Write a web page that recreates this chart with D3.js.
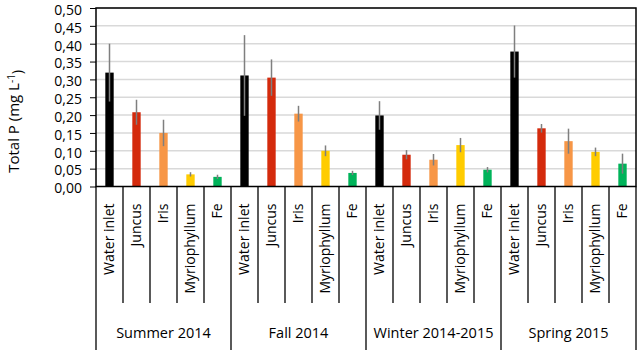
<!DOCTYPE html>
<html>
<head>
<meta charset="utf-8">
<script src="https://cdn.jsdelivr.net/npm/d3@7"></script>
<style>
  body { margin: 0; background: #fff; }
  text { font-family: "Open Sans", sans-serif; fill: #000; }
</style>
</head>
<body>
<div id="chart"></div>
<script>
const width = 640;
const height = 353;
const margin = {top: 8, right: 4, bottom: 166.5, left: 96};

// data
const seasons = ["Summer 2014", "Fall 2014", "Winter 2014-2015", "Spring 2015"];
const treatments = ["Water inlet", "Juncus", "Iris", "Myriophyllum", "Fe"];
const treatmentColors = ["#000000", "#d42a0c", "#f79646", "#ffcc00", "#00b35a"];

const meanSummer = [0.319, 0.208, 0.150, 0.034, 0.027];
const meanFall   = [0.311, 0.305, 0.204, 0.100, 0.038];
const meanWinter = [0.199, 0.089, 0.075, 0.116, 0.047];
const meanSpring = [0.378, 0.163, 0.127, 0.097, 0.064];

const errSummer = [0.081, 0.035, 0.037, 0.006, 0.006];
const errFall   = [0.113, 0.051, 0.022, 0.015, 0.006];
const errWinter = [0.040, 0.013, 0.016, 0.020, 0.0075];
const errSpring = [0.073, 0.012, 0.035, 0.012, 0.028];

const yTicks = [0, 0.05, 0.10, 0.15, 0.20, 0.25, 0.30, 0.35, 0.40, 0.45, 0.50];

const means = [meanSummer, meanFall, meanWinter, meanSpring];
const errs = [errSummer, errFall, errWinter, errSpring];

const rows = [];
seasons.forEach((s, i) => {
    treatments.forEach((t, j) => {
        rows.push({season: s, treatment: t, key: s + "|" + t, value: means[i][j], err: errs[i][j], color: treatmentColors[j]});
    });
});

const plotW = width - margin.left - margin.right;
const plotH = height - margin.top - margin.bottom;
const plotBottom = margin.top + plotH;

const svg = d3.select("#chart")
    .append("svg")
    .attr("width", width)
    .attr("height", height);

const x = d3.scaleBand().domain(rows.map(d => d.key)).range([margin.left, margin.left + plotW]).padding(0);
const xGroup = d3.scaleBand().domain(seasons).range([margin.left, margin.left + plotW]).padding(0);
const y = d3.scaleLinear().domain([0, 0.5]).range([plotBottom, margin.top]);

// gridlines
svg.append("g")
    .selectAll("line")
    .data(yTicks.slice(1))
    .join("line")
    .attr("x1", margin.left)
    .attr("x2", margin.left + plotW)
    .attr("y1", d => y(d))
    .attr("y2", d => y(d))
    .attr("stroke", "#d9d9d9")
    .attr("stroke-width", 1.5);

// y axis
const yAxis = d3.axisLeft(y)
    .tickValues(yTicks)
    .tickFormat(d => d3.format(".2f")(d).replace(".", ","))
    .tickSize(6)
    .tickPadding(8);

const gy = svg.append("g")
    .attr("transform", `translate(${margin.left},0)`)
    .call(yAxis);
gy.select(".domain").remove();
gy.selectAll(".tick line").attr("stroke", "#000").attr("stroke-width", 1);
gy.selectAll(".tick text")
    .attr("dy", "0.45em")
    .style("font-family", "Open Sans, sans-serif")
    .style("font-size", "14px")
    .attr("fill", "#000");

// bars
const barW = x.bandwidth() * 0.31;
svg.append("g")
    .selectAll("rect")
    .data(rows)
    .join("rect")
    .attr("x", d => x(d.key) + (x.bandwidth() - barW) / 2)
    .attr("y", d => y(d.value))
    .attr("width", barW)
    .attr("height", d => plotBottom - y(d.value))
    .attr("fill", d => d.color);

// error bars
svg.append("g")
    .selectAll("line")
    .data(rows)
    .join("line")
    .attr("x1", d => x(d.key) + x.bandwidth() / 2)
    .attr("x2", d => x(d.key) + x.bandwidth() / 2)
    .attr("y1", d => y(d.value + d.err))
    .attr("y2", d => y(Math.max(0, d.value - d.err)))
    .attr("stroke", "#7f7f7f")
    .attr("stroke-width", 1.5);

// plot frame
svg.append("rect")
    .attr("x", margin.left)
    .attr("y", margin.top)
    .attr("width", plotW)
    .attr("height", plotH)
    .attr("fill", "none")
    .attr("stroke", "#000")
    .attr("stroke-width", 1.5);

// category separators below the axis
const innerBottom = 303;
const groupBottom = 350;
svg.append("g")
    .selectAll("line")
    .data(rows.filter((d, i) => i % treatments.length !== 0))
    .join("line")
    .attr("x1", d => x(d.key))
    .attr("x2", d => x(d.key))
    .attr("y1", plotBottom)
    .attr("y2", innerBottom)
    .attr("stroke", "#000")
    .attr("stroke-width", 1.3);

svg.append("g")
    .selectAll("line")
    .data(seasons.concat(["end"]))
    .join("line")
    .attr("x1", d => d === "end" ? margin.left + plotW : xGroup(d))
    .attr("x2", d => d === "end" ? margin.left + plotW : xGroup(d))
    .attr("y1", plotBottom)
    .attr("y2", groupBottom)
    .attr("stroke", "#000")
    .attr("stroke-width", 1.3);

// treatment labels (rotated)
svg.append("g")
    .selectAll("text")
    .data(rows)
    .join("text")
    .attr("transform", d => `translate(${x(d.key) + x.bandwidth() / 2},${plotBottom + 17}) rotate(-90)`)
    .attr("text-anchor", "end")
    .attr("dy", "0.35em")
    .style("font-size", "14px")
    .text(d => d.treatment);

// season labels
svg.append("g")
    .selectAll("text")
    .data(seasons)
    .join("text")
    .attr("x", d => xGroup(d) + xGroup.bandwidth() / 2)
    .attr("y", 333)
    .attr("dy", "0.35em")
    .attr("text-anchor", "middle")
    .style("font-size", "14.5px")
    .text(d => d);

// y axis title
const yTitle = svg.append("text")
    .attr("transform", `translate(14,${(margin.top + plotBottom) / 2 + 24}) rotate(-90)`)
    .attr("text-anchor", "middle")
    .attr("dy", "0.35em")
    .style("font-size", "15px");
yTitle.append("tspan").text("Total P (mg L");
yTitle.append("tspan").attr("dy", "-0.45em").style("font-size", "10px").text("-1");
yTitle.append("tspan").attr("dy", "0.45em").text(")");
</script>
</body>
</html>
